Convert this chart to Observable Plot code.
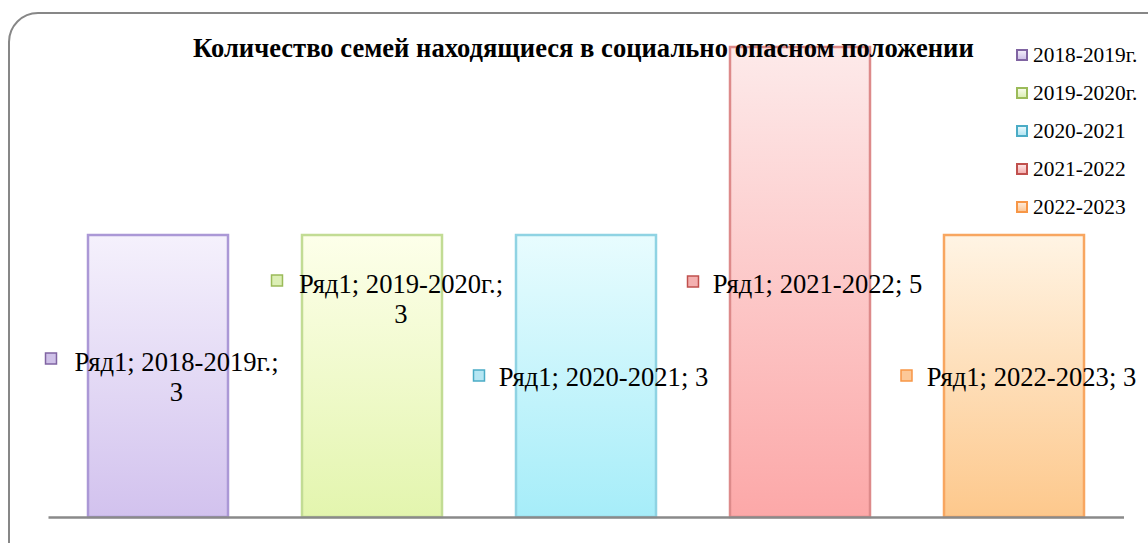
<!DOCTYPE html>
<html>
<head>
<meta charset="utf-8">
<script src="https://cdn.jsdelivr.net/npm/d3@7"></script>
<script src="https://cdn.jsdelivr.net/npm/@observablehq/plot@0.6"></script>
<style>
  body { margin: 0; background: #fff; width: 1148px; height: 543px; overflow: hidden; position: relative;
         font-family: "Liberation Serif", "Times New Roman", serif; }
  #chart { position: absolute; left: 0; top: 0; }
  #frame { position: absolute; left: 8px; top: 12px; width: 1170px; height: 570px; box-sizing: border-box;
           border: 2px solid #878787; border-radius: 30px; pointer-events: none; }
  #title { position: absolute; left: 193px; top: 34.7px; white-space: nowrap; font-weight: bold;
           font-size: 26.6px; line-height: 26.6px; color: #000; }
  .lg-row { position: absolute; left: 1033px; font-size: 21.4px; line-height: 21px; height: 21px; white-space: nowrap; color: #000; }
  .lg-key { position: absolute; left: 1016px; width: 12px; height: 12px; box-sizing: border-box; border: 2px solid; }
</style>
</head>
<body>
<div id="chart"></div>
<div id="frame"></div>
<div id="title"></div>
<div id="legend"></div>
<script>
// ---- data ----
const titleText = "Количество семей находящиеся в социально опасном положении";
const seriesName = "Ряд1";
const categories = ["2018-2019г.", "2019-2020г.", "2020-2021", "2021-2022", "2022-2023"];
const values = [3, 3, 3, 5, 3];

// ---- styles ----
const barTop    = ["#f5f1fc", "#fdffea", "#e8fcfe", "#fdeaea", "#fff4e4"];
const barBottom = ["#d2c2ee", "#e3f5ae", "#a6edf9", "#fca8a8", "#fdc88c"];
const barStroke = ["#ab98d6", "#c2dc94", "#8fd3e3", "#dd8a8a", "#f8a660"];
const keyFillA  = ["#f1ecf9", "#f7fbe9", "#e6f8fc", "#fde2e2", "#fee9d6"];
const keyFillB  = ["#cfc1e8", "#dcefb5", "#b5e6f3", "#f4b0b0", "#fcc898"];
const keyStroke = ["#8064a2", "#9bbb59", "#4bacc6", "#c0504d", "#f79646"];

// label layout: offsets from (bar centre, bar top)
const labelLayout = [
  {wrap: true,  tdx: 18,   tdy: 165, mdx: -107.5, mdy: 123},
  {wrap: true,  tdx: 28.5, tdy: 87,  mdx: -95.5,  mdy: 45},
  {wrap: false, tdx: 17,   tdy: 150, mdx: -107.5, mdy: 140},
  {wrap: false, tdx: 17,   tdy: 245, mdx: -107.5, mdy: 234},
  {wrap: false, tdx: 17,   tdy: 150, mdx: -108,   mdy: 140}
];

const rows = categories.map((c, i) => ({cat: c, val: values[i], i}));
const font = '"Liberation Serif", "Times New Roman", serif';

const marks = [];
rows.forEach((r, i) => {
  marks.push(Plot.barY([r], {x: "cat", y: "val", fill: `url(#g${i})`, stroke: barStroke[i], strokeWidth: 2.5}));
});
marks.push(Plot.ruleY([0], {stroke: "#8a8a8a", strokeWidth: 2.5, insetLeft: -2, insetRight: -2}));
rows.forEach((r, i) => {
  const L = labelLayout[i];
  const txt = `${seriesName}; ${r.cat};${L.wrap ? "\n" : " "}${r.val}`;
  marks.push(Plot.dot([r], {x: "cat", y: "val", dx: L.mdx, dy: L.mdy, symbol: "square", r: 6.2,
    fill: keyFillB[i], stroke: keyStroke[i], strokeWidth: 1.5}));
  marks.push(Plot.text([r], {x: "cat", y: "val", dx: L.tdx, dy: L.tdy, text: () => txt,
    textAnchor: "middle", lineAnchor: "bottom", lineHeight: 1.1, fontSize: 26.6, fill: "#000", fontFamily: font}));
});

const chart = Plot.plot({
  width: 1148, height: 543,
  marginLeft: 50.5, marginRight: 26, marginTop: 47, marginBottom: 26,
  style: {background: "transparent", fontFamily: font, overflow: "visible"},
  x: {domain: categories, paddingInner: 0.347, paddingOuter: 0.17, axis: null},
  y: {domain: [0, 5], axis: null},
  marks
});

// gradients
const svg = d3.select(chart);
const defs = svg.insert("defs", ":first-child");
rows.forEach((r, i) => {
  const g = defs.append("linearGradient").attr("id", `g${i}`).attr("x1", 0).attr("y1", 0).attr("x2", 0).attr("y2", 1);
  g.append("stop").attr("offset", "0%").attr("stop-color", barTop[i]);
  g.append("stop").attr("offset", "100%").attr("stop-color", barBottom[i]);
});
document.getElementById("chart").appendChild(chart);

// title
document.getElementById("title").textContent = titleText;

// legend
const legend = d3.select("#legend");
categories.forEach((c, i) => {
  const cy = 55 + i * 38;
  legend.append("div").attr("class", "lg-key")
    .style("top", (cy - 6) + "px")
    .style("border-color", keyStroke[i])
    .style("background", `linear-gradient(${keyFillA[i]}, ${keyFillB[i]})`);
  legend.append("div").attr("class", "lg-row").style("top", (cy - 10.5) + "px").text(c);
});
</script>
</body>
</html>
